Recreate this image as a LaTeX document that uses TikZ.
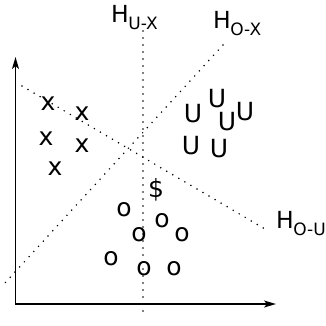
\documentclass[tikz,border=0pt]{standalone}
\usepackage{fontspec}
\setmainfont{DejaVu Sans}
\usetikzlibrary{arrows.meta}
\tikzset{
  sample/.style={font=\fontsize{25}{30}\selectfont, inner sep=0pt},
  hlab/.style={font=\fontsize{23.5}{28}\selectfont, inner sep=0pt, anchor=base west},
  hyper/.style={line width=1.7pt, line cap=round, dash pattern=on 0pt off 7pt},
  axis/.style={line width=1.4pt, {Stealth[length=12pt,width=7pt,inset=3pt]}-{Stealth[length=12pt,width=7pt,inset=3pt]}}
}
\newcommand{\hname}[1]{H\kern-0.5pt\raisebox{-7pt}{\fontsize{17}{20}\selectfont #1}}

\begin{document}
\begin{tikzpicture}[x=1pt,y=-1pt]
  \useasboundingbox (0,0) rectangle (326,325);

  % Axes
  \coordinate (origin) at (15.5,304);
  \coordinate (ytip) at (15.5,57);
  \coordinate (xtip) at (276,304);
  \draw[axis] (ytip) -- (origin) -- (xtip);

  % Separating hyperplanes
  \coordinate (ux-top) at (143,31);
  \coordinate (ux-bot) at (143,318);
  \coordinate (ox-top) at (223,45);
  \coordinate (ox-bot) at (4,284);
  \coordinate (ou-top) at (22,86);
  \coordinate (ou-bot) at (265,229);
  \draw[hyper] (ux-top) -- (ux-bot);
  \draw[hyper] (ox-top) -- (ox-bot);
  \draw[hyper] (ou-top) -- (ou-bot);

  % Hyperplane labels
  \node[hlab] (lux) at (111,22) {\hname{U-X}};
  \node[hlab] (lox) at (213,28) {\hname{O-X}};
  \node[hlab] (lou) at (276,228) {\hname{O-U}};

  % Class X
  \node[sample] (x1) at (48,104) {x};
  \node[sample] (x2) at (82,114) {x};
  \node[sample] (x3) at (46,139) {x};
  \node[sample] (x4) at (82,146) {x};
  \node[sample] (x5) at (55,169) {x};

  % Class U
  \node[sample] (u1) at (193,114) {U};
  \node[sample] (u2) at (217,99) {U};
  \node[sample] (u3) at (227,122) {U};
  \node[sample] (u4) at (245,112) {U};
  \node[sample] (u5) at (191,146) {U};
  \node[sample] (u6) at (219,149) {U};

  % Class O and query point
  \node[sample] (q) at (156,190) {\$};
  \node[sample] (o1) at (124,210) {o};
  \node[sample] (o2) at (162,221) {o};
  \node[sample] (o3) at (139,235) {o};
  \node[sample] (o4) at (182,235) {o};
  \node[sample] (o5) at (111,259) {o};
  \node[sample] (o6) at (144,269) {o};
  \node[sample] (o7) at (174,269) {o};
\end{tikzpicture}
\end{document}
